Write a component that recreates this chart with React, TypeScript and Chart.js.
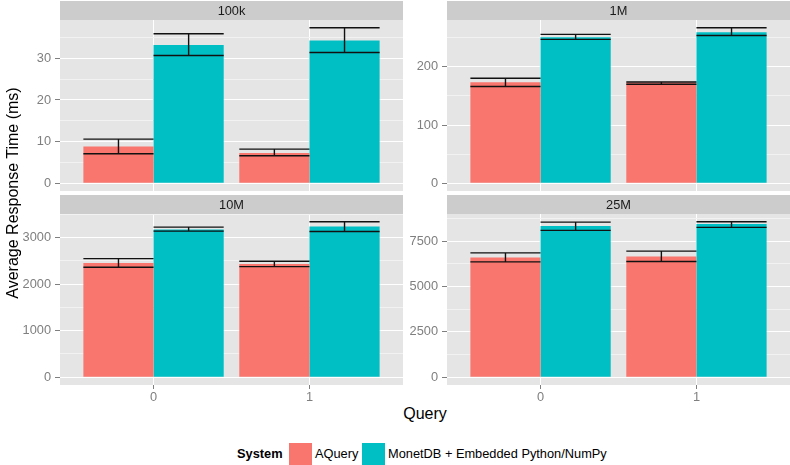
import React, { useEffect, useRef } from 'react';
import { Chart, registerables } from 'chart.js';
Chart.register(...registerables);

const FONT = '"Liberation Sans", Arial, Helvetica, sans-serif';

// ---- data ----
const panels = ['100k', '1M', '10M', '25M'];
const queries = ['0', '1'];
const systems = ['AQuery', 'MonetDB + Embedded Python/NumPy'];
const colors = ['#F8766D', '#00BFC4'];

const aqueryMean = [[8.8, 7.25], [173.6, 173], [2454, 2432], [6604, 6659]];
const aqueryLow = [[7.1, 6.6], [166.2, 170.2], [2360, 2374], [6361, 6383]];
const aqueryHigh = [[10.6, 8.2], [180.5, 174.1], [2547, 2489], [6858, 6952]];
const monetMean = [[33.2, 34.3], [250.7, 259.3], [3173, 3238], [8335, 8445]];
const monetLow = [[30.7, 31.4], [247.2, 254], [3137, 3130], [8097, 8263]];
const monetHigh = [[35.9, 37.35], [255.9, 267.2], [3223, 3338], [8556, 8573]];
const yTicks = [[0, 10, 20, 30], [0, 100, 200], [0, 1000, 2000, 3000], [0, 2500, 5000, 7500]];

// ---- layout of the facet panels ----
const panelLayout = [
  { left: 0, top: 0, width: 403, height: 191, axisW: 60, padTop: 20, stripTop: 1, bottom: false },
  { left: 403, top: 0, width: 387, height: 191, axisW: 44, padTop: 20, stripTop: 1, bottom: false },
  { left: 0, top: 191, width: 403, height: 214, axisW: 60, padTop: 23, stripTop: 4, bottom: true },
  { left: 403, top: 191, width: 387, height: 214, axisW: 44, padTop: 23, stripTop: 4, bottom: true },
];

const bgPlugin = {
  id: 'facetBg',
  beforeDraw(chart: any) {
    const { ctx, chartArea } = chart;
    const L = chart.options.plugins.facetBg;
    ctx.save();
    ctx.fillStyle = '#E5E5E5';
    ctx.fillRect(chartArea.left, chartArea.top, chartArea.right - chartArea.left, chartArea.bottom - chartArea.top);
    ctx.fillStyle = '#CCCCCC';
    ctx.fillRect(chartArea.left, L.stripTop, chartArea.right - chartArea.left, chartArea.top - L.stripTop);
    ctx.fillStyle = '#1A1A1A';
    ctx.font = `12.8px ${FONT}`;
    ctx.textAlign = 'center';
    ctx.textBaseline = 'middle';
    ctx.fillText(L.label, (chartArea.left + chartArea.right) / 2, (L.stripTop + chartArea.top) / 2 + 0.5);
    ctx.restore();
  },
};

const errPlugin = {
  id: 'errBars',
  afterDatasetsDraw(chart: any) {
    const { ctx } = chart;
    const yScale = chart.scales.y;
    ctx.save();
    ctx.strokeStyle = '#111111';
    ctx.lineWidth = 1.4;
    chart.data.datasets.forEach((ds: any, d: number) => {
      const meta = chart.getDatasetMeta(d);
      meta.data.forEach((el: any, i: number) => {
        const { x, width } = el.getProps(['x', 'width'], true);
        const yLo = yScale.getPixelForValue(ds.errLow[i]);
        const yHi = yScale.getPixelForValue(ds.errHigh[i]);
        ctx.beginPath();
        ctx.moveTo(x - width / 2, yHi);
        ctx.lineTo(x + width / 2, yHi);
        ctx.moveTo(x - width / 2, yLo);
        ctx.lineTo(x + width / 2, yLo);
        ctx.moveTo(x, yLo);
        ctx.lineTo(x, yHi);
        ctx.stroke();
      });
    });
    ctx.restore();
  },
};

function Panel({ idx }: { idx: number }) {
  const ref = useRef<HTMLCanvasElement>(null);
  const L = panelLayout[idx];
  useEffect(() => {
    const means = [aqueryMean[idx], monetMean[idx]];
    const lows = [aqueryLow[idx], monetLow[idx]];
    const highs = [aqueryHigh[idx], monetHigh[idx]];
    const topVal = Math.max(...highs[0], ...highs[1]);
    const yMin = -0.05 * topVal;
    const yMax = 1.05 * topVal;
    const major = yTicks[idx];
    const step = major[1] - major[0];
    const allTicks: number[] = [];
    for (let v = major[0] - step / 2; v <= yMax; v += step / 2) {
      if (v >= yMin) allTicks.push(v);
    }
    const isMajor = (v: number) => major.includes(v);

    const chart = new Chart(ref.current as HTMLCanvasElement, {
      type: 'bar',
      data: {
        datasets: systems.map((s, d) => ({
          label: s,
          data: queries.map((q, i) => ({ x: i, y: means[d][i] })),
          backgroundColor: colors[d],
          borderWidth: 0,
          categoryPercentage: 0.9,
          barPercentage: 1,
          errLow: lows[d],
          errHigh: highs[d],
        })) as any,
      },
      options: {
        animation: false,
        responsive: false,
        devicePixelRatio: 1,
        layout: { padding: { top: L.padTop, left: 0, right: 0, bottom: 0 } },
        plugins: {
          legend: { display: false },
          tooltip: { enabled: false },
          title: { display: false },
          facetBg: { stripTop: L.stripTop, label: panels[idx] },
        } as any,
        scales: {
          x: {
            type: 'linear',
            min: -0.6,
            max: 1.6,
            offset: false,
            border: { display: false },
            grid: {
              offset: false,
              color: '#FFFFFF',
              lineWidth: 1,
              drawTicks: L.bottom,
              tickLength: 4,
              tickColor: '#7F7F7F',
              tickWidth: 1,
            },
            ticks: {
              display: L.bottom,
              autoSkip: false,
              maxRotation: 0,
              padding: 1,
              color: '#7F7F7F',
              font: { family: FONT, size: 12.8 },
              callback: (v: any) => queries[v] ?? '',
            },
            afterBuildTicks: (s: any) => {
              s.ticks = queries.map((q, i) => ({ value: i }));
            },
            afterFit: (s: any) => {
              s.height = L.bottom ? 20 : 0;
              s.paddingLeft = 0;
              s.paddingRight = 0;
            },
          } as any,
          y: {
            type: 'linear',
            min: yMin,
            max: yMax,
            border: { display: false },
            grid: {
              color: (c: any) => (isMajor(c.tick?.value) ? '#FFFFFF' : '#F2F2F2'),
              lineWidth: 1,
              tickLength: 5,
              tickColor: (c: any) => (isMajor(c.tick?.value) ? '#7F7F7F' : 'rgba(0,0,0,0)'),
              tickWidth: 1,
            },
            ticks: {
              autoSkip: false,
              padding: 4,
              color: '#7F7F7F',
              font: { family: FONT, size: 12.8 },
              callback: (v: any) => (isMajor(v) ? String(v) : ''),
            },
            afterBuildTicks: (s: any) => {
              s.ticks = allTicks.map((v) => ({ value: v }));
            },
            afterFit: (s: any) => {
              s.width = L.axisW;
              s.paddingTop = 0;
              s.paddingBottom = 0;
            },
          } as any,
        },
      },
      plugins: [bgPlugin, errPlugin],
    } as any);
    return () => chart.destroy();
  }, [idx]);
  return (
    <canvas
      ref={ref}
      width={L.width}
      height={L.height}
      style={{ position: 'absolute', left: L.left, top: L.top, width: L.width, height: L.height, display: 'block' }}
    />
  );
}

export default function App() {
  const txt: React.CSSProperties = { position: 'absolute', whiteSpace: 'nowrap', fontFamily: FONT, color: '#000' };
  return (
    <div style={{ position: 'absolute', left: 0, top: 0, width: 790, height: 465, background: '#FFFFFF', overflow: 'hidden' }}>
      {panels.map((p, i) => (
        <Panel key={p} idx={i} />
      ))}
      <div
        style={{
          ...txt,
          left: 13 - 200,
          top: 193 - 9,
          width: 400,
          height: 18,
          lineHeight: '18px',
          fontSize: 16,
          textAlign: 'center',
          transform: 'rotate(-90deg)',
        }}
      >
        Average Response Time (ms)
      </div>
      <div style={{ ...txt, left: 325, width: 200, top: 406, lineHeight: '16px', fontSize: 16, textAlign: 'center' }}>Query</div>
      <div style={{ ...txt, left: 237, top: 443, height: 22, lineHeight: '22px', fontSize: 12.8, fontWeight: 'bold' }}>System</div>
      <div style={{ position: 'absolute', left: 289, top: 443, width: 23, height: 22, background: colors[0] }} />
      <div style={{ ...txt, left: 315, top: 443, height: 22, lineHeight: '22px', fontSize: 12.8 }}>{systems[0]}</div>
      <div style={{ position: 'absolute', left: 362, top: 443, width: 23, height: 22, background: colors[1] }} />
      <div style={{ ...txt, left: 388, top: 443, height: 22, lineHeight: '22px', fontSize: 12.8 }}>{systems[1]}</div>
    </div>
  );
}
